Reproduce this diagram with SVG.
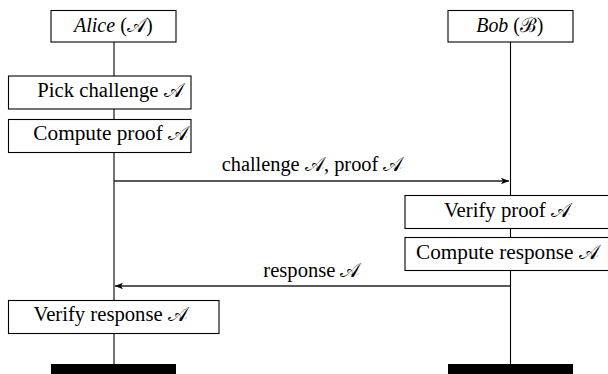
<svg xmlns="http://www.w3.org/2000/svg" width="608" height="374" viewBox="0 0 608 374">
<style>
.box{fill:#fff;stroke:#000;stroke-width:1.1}
.life{stroke:#000;stroke-width:1.1}
.msg{stroke:#222;stroke-width:1.3;fill:none}
.t{font-family:'Liberation Serif','Times New Roman',serif;font-size:20px;fill:#000;text-anchor:middle}
.i{font-style:italic}
.bar{fill:#000}
</style>
<defs>
<marker id="ah" viewBox="0 0 10 10" refX="10" refY="5" markerWidth="8" markerHeight="8" markerUnits="userSpaceOnUse" orient="auto">
<path d="M0,1 L10,5 L0,9 L2.5,5 Z" fill="#000"/>
</marker>
</defs>
<rect width="608" height="374" fill="#fff"/>
<g id="lifelines">
<line class="life" x1="114" y1="42" x2="114" y2="364"/>
<line class="life" x1="510.5" y1="42" x2="510.5" y2="364"/>
</g>
<g id="connectors">
<line class="msg" x1="114" y1="181" x2="509" y2="181" marker-end="url(#ah)"/>
<text class="t" x="312.2" y="171" textLength="181" lengthAdjust="spacingAndGlyphs">challenge 𝒜, proof 𝒜</text>
<line class="msg" x1="510.5" y1="286" x2="115" y2="286" marker-end="url(#ah)"/>
<text class="t" x="311.7" y="277" textLength="96.7" lengthAdjust="spacingAndGlyphs">response 𝒜</text>
</g>
<g id="alice">
<rect class="box" x="51" y="10.5" width="125" height="31.5"/>
<text class="t" x="113.3" y="31.7" textLength="78.7" lengthAdjust="spacingAndGlyphs"><tspan class="i">Alice</tspan> (𝒜)</text>
</g>
<g id="bob">
<rect class="box" x="448" y="10.5" width="125" height="31.5"/>
<text class="t" x="509.8" y="31.7" textLength="67" lengthAdjust="spacingAndGlyphs"><tspan class="i">Bob</tspan> (ℬ)</text>
</g>
<g id="pick-challenge">
<rect class="box" x="8.5" y="76" width="182.5" height="33"/>
<text class="t" x="110.3" y="97" textLength="146" lengthAdjust="spacingAndGlyphs">Pick challenge 𝒜</text>
</g>
<g id="compute-proof">
<rect class="box" x="8.5" y="119.5" width="182.5" height="33"/>
<text class="t" x="110.8" y="140" textLength="155" lengthAdjust="spacingAndGlyphs">Compute proof 𝒜</text>
</g>
<g id="verify-proof">
<rect class="box" x="405" y="195.5" width="212" height="33"/>
<text class="t" x="507.3" y="217.3" textLength="126.7" lengthAdjust="spacingAndGlyphs">Verify proof 𝒜</text>
</g>
<g id="compute-response">
<rect class="box" x="405" y="237.5" width="212" height="33"/>
<text class="t" x="507.5" y="259" textLength="183" lengthAdjust="spacingAndGlyphs">Compute response 𝒜</text>
</g>
<g id="verify-response">
<rect class="box" x="8.5" y="300.5" width="210.5" height="33"/>
<text class="t" x="110.5" y="320.7" textLength="154" lengthAdjust="spacingAndGlyphs">Verify response 𝒜</text>
</g>
<g id="alice-end"><rect class="bar" x="51" y="364" width="125" height="10"/></g>
<g id="bob-end"><rect class="bar" x="448" y="364" width="125" height="10"/></g>
</svg>
